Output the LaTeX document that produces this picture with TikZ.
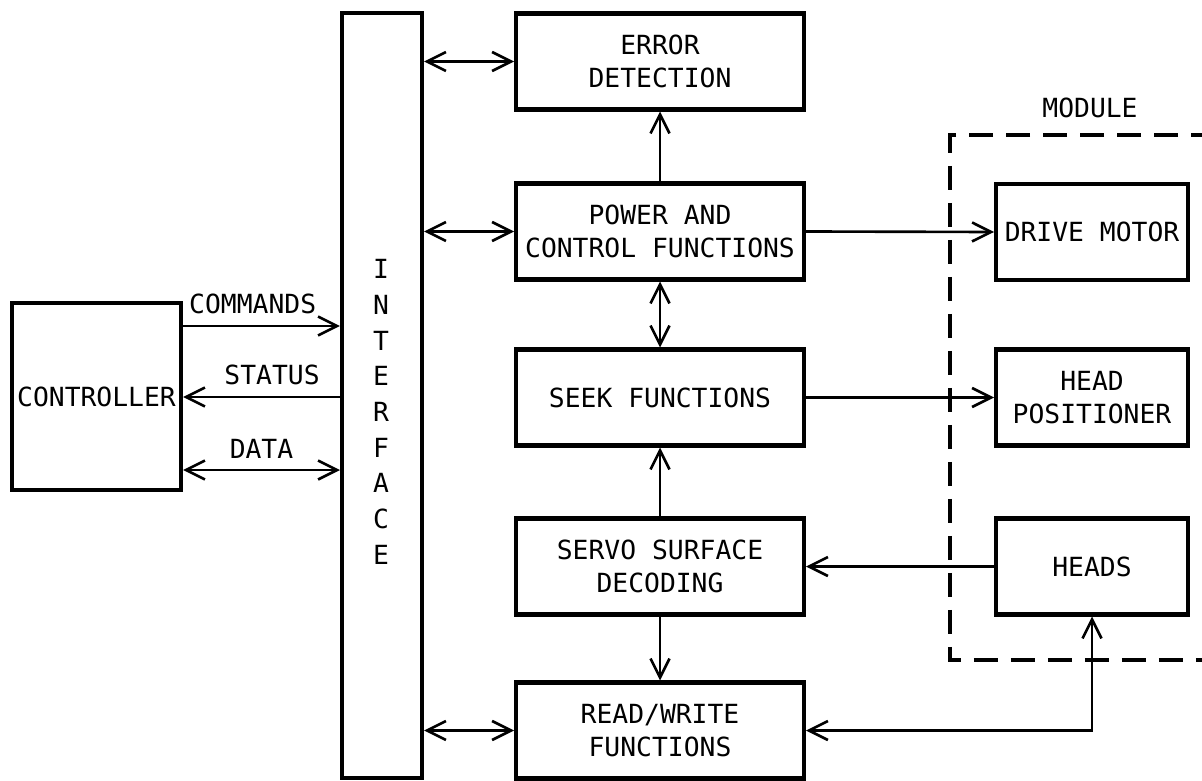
\documentclass[tikz,border=0pt]{standalone}
\usepackage{fontspec}
\setmainfont{DejaVu Sans Mono}
\usetikzlibrary{arrows.meta}

\begin{document}
\begin{tikzpicture}[x=0.02cm,y=-0.02cm,
		>={Straight Barb[length=0.38cm,width=0.38cm,line width=1.5pt]},
		txt/.style={font=\fontsize{15}{19}\selectfont,align=center,inner sep=0pt},
		box/.style={txt,draw=black,line width=2.3pt},
		midbox/.style={box,minimum width=5.76cm,minimum height=1.92cm},
		unitbox/.style={box,minimum width=3.84cm,minimum height=1.92cm},
		link/.style={line width=1.5pt}]
		\useasboundingbox (0,0) rectangle (1202,780);
		% left side
		\node [box,minimum width=3.38cm,minimum height=3.74cm] (ctrl) at (96.5,396.5) {CONTROLLER};
		\node [box,minimum width=1.6cm,minimum height=15.3cm] (iface) at (382,395.5) {};
		\node [txt,font=\fontsize{15}{20.3}\selectfont] (iftext) at (381,412) {I\\N\\T\\E\\R\\F\\A\\C\\E};
		% middle column
		\node [midbox] (err) at (660,61.5) {ERROR\\DETECTION};
		\node [midbox] (pwr) at (660,231.5) {POWER AND\\CONTROL FUNCTIONS};
		\node [midbox] (seek) at (660,397.5) {SEEK FUNCTIONS};
		\node [midbox] (servo) at (660,566.5) {SERVO SURFACE\\DECODING};
		\node [midbox] (rw) at (660,730.5) {READ/WRITE\\FUNCTIONS};
		% module
		\node [txt] (modlbl) at (1090,108) {MODULE};
		\node [unitbox] (motor) at (1092,232) {DRIVE MOTOR};
		\node [unitbox] (hpos) at (1092,397.5) {HEAD\\POSITIONER};
		\node [unitbox] (heads) at (1092,566.5) {HEADS};
		\draw [line width=2.4pt,dash pattern=on 0.48cm off 0.26cm] (1215,135) -- (950,135) -- (950,660) -- (1215,660);
		% controller links
		\coordinate (ycmd) at (0,326);
		\coordinate (ysts) at (0,397);
		\coordinate (ydat) at (0,470);
		\draw [link,->] (ctrl.east |- ycmd) -- node [txt,above=6pt,xshift=-5pt] {COMMANDS} (iface.west |- ycmd);
		\draw [link,->] (iface.west |- ysts) -- node [txt,above=6pt,xshift=6pt] {STATUS} (ctrl.east |- ysts);
		\draw [link,<->] (ctrl.east |- ydat) -- node [txt,above=6pt] {DATA} (iface.west |- ydat);
		% interface links
		\draw [link,<->] (iface.east |- err.west) -- (err.west);
		\draw [link,<->] (iface.east |- pwr.west) -- (pwr.west);
		\draw [link,<->] (iface.east |- rw.west) -- (rw.west);
		% middle links
		\draw [link,->] (pwr.north) -- (err.south);
		\draw [link,<->] (pwr.south) -- (seek.north);
		\draw [link,->] (servo.north) -- (seek.south);
		\draw [link,->] (servo.south) -- (rw.north);
		% to and from the module
		\draw [link,->] (pwr.east) -- (motor.west);
		\draw [link,->] (seek.east) -- (hpos.west);
		\draw [link,->] (heads.west) -- (servo.east);
		\draw [link,<->] (rw.east) -| (heads.south);
	\end{tikzpicture}
\end{document}
